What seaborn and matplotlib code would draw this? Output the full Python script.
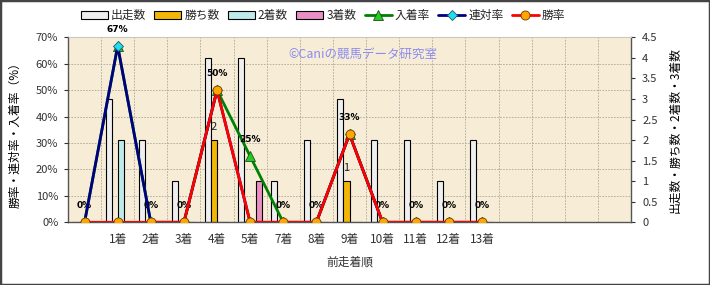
import numpy as np
import pandas as pd
import seaborn as sns
import matplotlib
matplotlib.use("Agg")
import matplotlib.pyplot as plt
from matplotlib.patches import Rectangle
from matplotlib.ticker import FixedLocator, MultipleLocator, PercentFormatter, FuncFormatter

# ---- data -------------------------------------------------------------
x_labels = ["", "1着", "2着", "3着", "4着", "5着", "7着", "8着", "9着",
            "10着", "11着", "12着", "13着"]
n_slots = 17  # category slots on the axis (trailing ones are empty)

runs   = [0, 3, 2, 1, 4, 4, 1, 2, 3, 2, 2, 1, 2]   # 出走数
wins   = [0, 0, 0, 0, 2, 0, 0, 0, 1, 0, 0, 0, 0]   # 勝ち数
second = [0, 2, 0, 0, 0, 0, 0, 0, 0, 0, 0, 0, 0]   # 2着数
third  = [0, 0, 0, 0, 0, 1, 0, 0, 0, 0, 0, 0, 0]   # 3着数

place_rate = [0, 66.7, 0, 0, 50, 25, 0, 0, 33.3, 0, 0, 0, 0]  # 入着率
quin_rate  = [0, 66.7, 0, 0, 50, 0, 0, 0, 33.3, 0, 0, 0, 0]   # 連対率
win_rate   = [0, 0, 0, 0, 50, 0, 0, 0, 33.3, 0, 0, 0, 0]      # 勝率

bar_names = ["出走数", "勝ち数", "2着数", "3着数"]
bar_colors = ["#EFEFEF", "#F2B705", "#BDEAEA", "#EA8FC3"]

# ---- style ------------------------------------------------------------
sns.set_style("ticks")
plt.rcParams["font.family"] = ["Noto Sans CJK JP", "DejaVu Sans"]
plt.rcParams["axes.unicode_minus"] = False
txt_col = "#333333"

fig = plt.figure(figsize=(7.1, 2.85), dpi=100)
fig.patch.set_facecolor("white")
ax = fig.add_axes([68 / 710, 1 - 222.3 / 285, (631 - 68) / 710, (222.3 - 37.3) / 285])
ax.set_facecolor("#F7ECD5")
ax2 = ax.twinx()   # rate axis, drawn above the bars

# ---- bars (right-hand count axis) -------------------------------------
pos = np.arange(len(x_labels))
df = pd.DataFrame({
    "pos": np.tile(pos, 4),
    "series": np.repeat(bar_names, len(pos)),
    "value": np.concatenate([runs, wins, second, third]),
})
sns.barplot(data=df, x="pos", y="value", hue="series", order=list(range(n_slots)),
            hue_order=bar_names, palette=bar_colors, width=0.73,
            edgecolor="black", linewidth=0.8, saturation=1, ax=ax, zorder=2)
leg = ax.get_legend()
if leg is not None:
    leg.remove()

ax.set_xlim(-0.5, n_slots - 0.5)
ax.set_ylim(0, 4.5)
ax.yaxis.set_ticks_position("right")
ax.yaxis.set_label_position("right")
ax.yaxis.set_major_locator(MultipleLocator(0.5))
ax.yaxis.set_major_formatter(FuncFormatter(lambda v, p: f"{v:g}"))
ax.set_xticks(pos, x_labels)
ax.tick_params(axis="x", length=0, pad=8, labelsize=8.5, colors=txt_col)
ax.tick_params(axis="y", which="major", right=True, left=False, labelright=True,
               labelleft=False, length=3, pad=5, labelsize=8, colors=txt_col)
ax.set_xlabel("前走着順", fontsize=8.5, color=txt_col)
ax.xaxis.set_label_coords(0.5, -0.18)
ax.set_ylabel("出走数・勝ち数・2着数・3着数", fontsize=8.5, color="black", rotation=90)
ax.yaxis.set_label_coords(1.067, 0.5)

# grid: vertical at slot boundaries, horizontal at every 10 % of the rate axis
pct_ticks = np.arange(0, 71, 10)
ax.xaxis.set_minor_locator(FixedLocator(np.arange(0.5, n_slots - 0.5, 1)))
ax.yaxis.set_minor_locator(FixedLocator(pct_ticks[1:-1] / 70 * 4.5))
ax.tick_params(which="minor", length=0, left=False, right=False, bottom=False)
ax.grid(False)
ax.grid(which="minor", color="#ADA79E", linestyle=(0, (2, 1.5)), linewidth=0.6, zorder=0)
ax.set_axisbelow(True)

# win-count labels above non-zero bars
win_bars = ax.containers[1]
for patch in win_bars:
    h = patch.get_height()
    if h > 0:
        ax.annotate(f"{h:g}", (patch.get_x() + patch.get_width() / 2, h),
                    xytext=(0, 13), textcoords="offset pixels",
                    ha="center", va="center", fontsize=8, color="#222222")

for side in ["left", "bottom", "right"]:
    ax.spines[side].set_color("#555555")
    ax.spines[side].set_linewidth(1.0)
ax.spines["top"].set_color("#C8C8C8")

# ---- rate lines (left-hand percent axis) ------------------------------
ax2.set_ylim(0, 70)
ax2.set_yticks(pct_ticks)
ax2.yaxis.set_ticks_position("left")
ax2.yaxis.set_label_position("left")
ax2.yaxis.set_major_formatter(PercentFormatter(decimals=0))
ax2.tick_params(axis="y", left=True, right=False, labelleft=True, labelright=False,
                length=3, pad=4, labelsize=8, colors=txt_col)
for s in ax2.spines.values():
    s.set_visible(False)
ax2.set_ylabel("勝率・連対率・入着率（%）", fontsize=8.5, color="black")
ax2.yaxis.set_label_coords(-0.082, 0.49)

line_pos = np.arange(len(x_labels))
sns.lineplot(x=line_pos, y=place_rate, ax=ax2, color="#008000", linewidth=2,
             marker="^", markersize=7, markerfacecolor="#22CC22",
             markeredgecolor="#1E4D1E", markeredgewidth=0.6, label="入着率",
             zorder=3)
sns.lineplot(x=line_pos, y=quin_rate, ax=ax2, color="#000080", linewidth=2,
             marker="D", markersize=5.5, markerfacecolor="#22DDEE",
             markeredgecolor="#1C5A6A", markeredgewidth=0.6, label="連対率",
             zorder=4)
sns.lineplot(x=line_pos, y=win_rate, ax=ax2, color="#FF0000", linewidth=2,
             marker="o", markersize=6.5, markerfacecolor="#FFA500",
             markeredgecolor="#6A3A00", markeredgewidth=0.6, label="勝率",
             zorder=5)
ax2.get_legend().remove()
ax2.set_xlim(-0.5, n_slots - 0.5)

# percentage labels for 入着率
for xp, v in zip(line_pos, place_rate):
    ax2.annotate(f"{v:.0f}%", (xp, v), xytext=(0, 17), textcoords="offset pixels",
                 ha="center", va="center", fontsize=6.5, fontweight="bold",
                 family="DejaVu Sans", color="black", annotation_clip=False)

# watermark
ax2.text(0.523, 0.91, "©Caniの競馬データ研究室", transform=ax.transAxes,
         ha="center", va="center", fontsize=9, color="#8C8CF0", zorder=1)

# ---- legend -----------------------------------------------------------
h1, l1 = ax.get_legend_handles_labels()
h2, l2 = ax2.get_legend_handles_labels()
fig.legend(h1 + h2, l1 + l2, loc="center", bbox_to_anchor=(0.455, 1 - 15.5 / 285),
           ncol=7, frameon=False, fontsize=8.5, handlelength=2.3,
           handletextpad=0.25, columnspacing=0.7, borderaxespad=0)

# outer frame
fig.patches.append(Rectangle((0, 0), 1, 1, transform=fig.transFigure, fill=False,
                             edgecolor="#444444", linewidth=2.5, zorder=10))

fig.savefig("out.png", dpi=100, facecolor="white")
